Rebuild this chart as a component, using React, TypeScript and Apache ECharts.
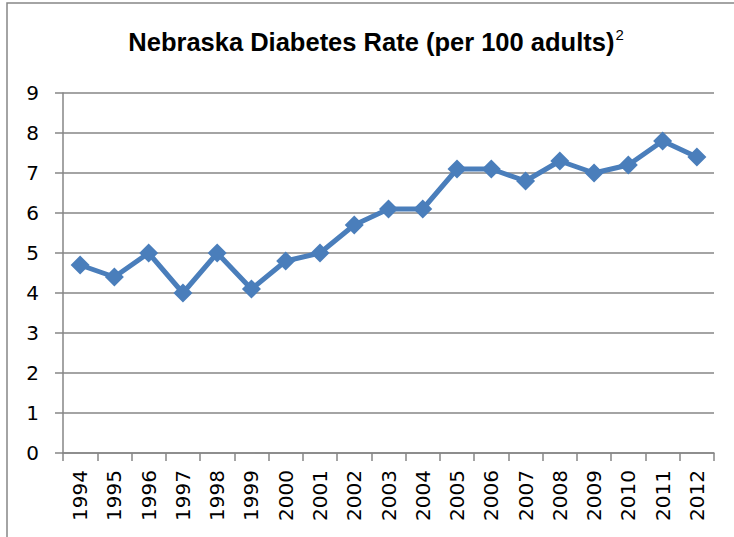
import React, { useEffect, useRef } from "react";
import * as echarts from "echarts";

const years = ["1994","1995","1996","1997","1998","1999","2000","2001","2002","2003","2004","2005","2006","2007","2008","2009","2010","2011","2012"];
const rates = [4.7, 4.4, 5.0, 4.0, 5.0, 4.1, 4.8, 5.0, 5.7, 6.1, 6.1, 7.1, 7.1, 6.8, 7.3, 7.0, 7.2, 7.8, 7.4];
const titleText = "Nebraska Diabetes Rate (per 100 adults)";
const titleNote = "2";

export default function App() {
  const ref = useRef<HTMLDivElement>(null);
  useEffect(() => {
    if (!ref.current) return;
    const chart = echarts.init(ref.current, null, { renderer: "svg" });
    chart.setOption({
      animation: false,
      backgroundColor: "#ffffff",
      graphic: [
        {
          type: "rect",
          shape: { x: 7, y: 3, width: 760, height: 600 },
          style: { fill: "none", stroke: "#868686", lineWidth: 1.5 },
          z: 0,
        },
      ],
      title: {
        text: `{b|${titleText}}{s|${titleNote}}`,
        left: 376,
        textAlign: "center",
        top: 27,
        padding: 0,
        textStyle: {
          rich: {
            b: { fontFamily: "Liberation Sans", fontWeight: "bold", fontSize: 25.5, lineHeight: 30, color: "#000" },
            s: { fontFamily: "Liberation Sans", fontWeight: "normal", fontSize: 15, lineHeight: 15, color: "#000", verticalAlign: "top", padding: [0, 0, 0, 1] },
          },
        },
      },
      grid: { left: 63, top: 93, width: 651, height: 360, containLabel: false },
      xAxis: {
        type: "category",
        data: years,
        boundaryGap: true,
        axisLine: { lineStyle: { color: "#868686", width: 1.5 } },
        axisTick: { show: true, length: 8, alignWithLabel: false, lineStyle: { color: "#868686", width: 1.5 } },
        axisLabel: { rotate: 90, margin: 17, fontFamily: "DejaVu Sans", fontSize: 20, color: "#000", interval: 0 },
      },
      yAxis: {
        type: "value",
        min: 0,
        max: 9,
        interval: 1,
        axisLine: { show: true, lineStyle: { color: "#868686", width: 1.5 } },
        axisTick: { show: true, length: 8, lineStyle: { color: "#868686", width: 1.5 } },
        axisLabel: { margin: 24, fontFamily: "DejaVu Sans", fontSize: 20, color: "#000" },
        splitLine: { lineStyle: { color: "#868686", width: 1.5 } },
      },
      series: [
        {
          type: "line",
          data: rates,
          symbol: "diamond",
          symbolSize: 19,
          lineStyle: { color: "#4a7ebb", width: 5 },
          itemStyle: { color: "#4a7ebb" },
        },
      ],
    });
    return () => chart.dispose();
  }, []);
  return <div ref={ref} style={{ position: "fixed", left: 0, top: 0, width: 734, height: 537 }} />;
}
